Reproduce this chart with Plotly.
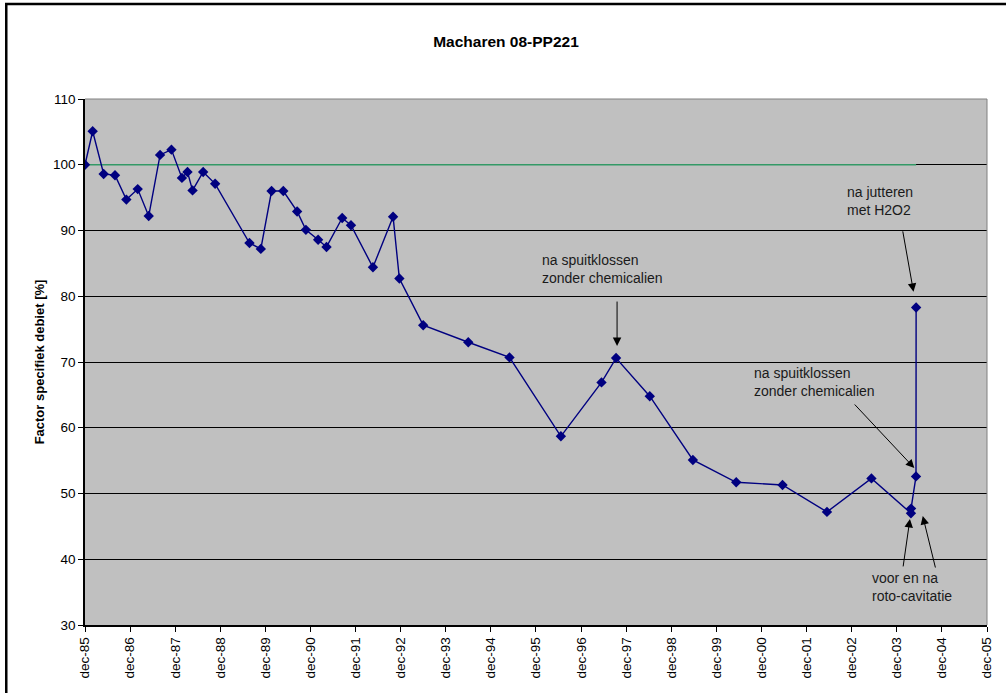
import plotly.graph_objects as go

# Measurement dates and specific-flow factor [%] for well 08-PP221
dates = [
    "1985-12-01", "1986-02-01", "1986-05-01", "1986-08-01", "1986-11-01",
    "1987-02-01", "1987-05-01", "1987-08-01", "1987-11-01", "1988-01-25",
    "1988-03-10", "1988-04-20", "1988-07-15", "1988-10-20", "1989-07-25",
    "1989-10-25", "1990-01-20", "1990-04-25", "1990-08-15", "1990-10-25",
    "1991-02-01", "1991-04-10", "1991-08-15", "1991-10-25", "1992-04-20",
    "1992-09-30", "1992-11-20", "1993-06-01", "1994-06-01", "1995-05-01",
    "1996-06-20", "1997-05-15", "1997-09-10", "1998-06-10", "1999-05-25",
    "2000-05-10", "2001-05-20", "2002-05-15", "2003-05-10", "2004-03-25",
    "2004-03-26", "2004-05-05", "2004-05-06",
]
factor = [
    100.0, 105.1, 98.6, 98.4, 94.7,
    96.3, 92.2, 101.5, 102.3, 98.0,
    98.9, 96.1, 98.9, 97.1, 88.1,
    87.2, 96.0, 96.0, 92.9, 90.1,
    88.6, 87.5, 91.9, 90.8, 84.4,
    92.1, 82.7, 75.6, 73.0, 70.7,
    58.7, 66.9, 70.6, 64.8, 55.1,
    51.7, 51.3, 47.2, 52.3, 47.0,
    47.7, 52.6, 78.3,
]

# Reference level (start value) across the measurement period
ref_dates = [dates[0], dates[-1]]
ref_level = [100, 100]

tick_dates = [f"{y}-12-01" for y in range(1985, 2006)]
tick_text = [f"dec-{str(y)[2:]}" for y in range(1985, 2006)]
y_ticks = [30, 40, 50, 60, 70, 80, 90, 100, 110]

FONT = "Liberation Sans, Arial, sans-serif"

fig = go.Figure()
fig.add_trace(go.Scatter(
    x=ref_dates, y=ref_level, mode="lines",
    line=dict(color="#339966", width=1.5), hoverinfo="skip",
))
fig.add_trace(go.Scatter(
    x=dates, y=factor, mode="lines+markers",
    line=dict(color="#000080", width=1.4),
    marker=dict(symbol="diamond", size=8, color="#000080"),
))

# Arrow annotations anchored on the measurement points they refer to
def arrow(i, xs, ys, ax, ay):
    return dict(
        x=dates[i], y=factor[i], xref="x", yref="y",
        xshift=xs, yshift=ys, ax=ax, ay=ay, text="",
        showarrow=True, arrowhead=2, arrowsize=1.7, arrowwidth=1,
        arrowcolor="#000000", standoff=0,
    )

notes = [
    arrow(32, 1, 12, 0, -46),
    arrow(42, -2.6, 15.6, -11, -62),
    arrow(41, -1.7, 8.4, -61, -65),
    arrow(39, -1, -5.7, -7, 49),
    arrow(40, 11.7, -7.4, 13, 53),
]

def label(text, px, py):
    return dict(
        text=text, xref="paper", yref="paper",
        x=(px - 85) / 905, y=(625 - py) / 526,
        xanchor="left", yanchor="top", align="left", showarrow=False,
        font=dict(family=FONT, size=14, color="#1a1a1a"),
    )

notes += [
    label("na spuitklossen<br>zonder chemicalien", 542, 250),
    label("na jutteren<br>met H2O2", 848, 182),
    label("na spuitklossen<br>zonder chemicalien", 754, 363),
    label("voor en na<br>roto-cavitatie", 873, 568),
]

fig.update_layout(
    width=1006, height=693,
    margin=dict(l=85, r=16, t=99, b=68),
    paper_bgcolor="white", plot_bgcolor="#C0C0C0",
    showlegend=False,
    title=dict(
        text="<b>Macharen 08-PP221</b>", x=0.503, xref="container",
        xanchor="center", y=1 - 42 / 693, yanchor="middle",
        font=dict(family=FONT, size=15.5, color="#000000"),
    ),
    font=dict(family=FONT, size=13.5, color="#000000"),
    annotations=notes,
    shapes=[
        # chart frame
        dict(type="rect", xref="paper", yref="paper",
             x0=(6 - 85) / 905, x1=1.1, y0=-0.3, y1=(625 - 4) / 526,
             line=dict(color="#000000", width=2.5), layer="below"),
        # top and right edge of the plot area
        dict(type="line", xref="paper", yref="paper", x0=0, x1=1, y0=1, y1=1,
             line=dict(color="#808080", width=1)),
        dict(type="line", xref="paper", yref="paper", x0=1, x1=1, y0=0, y1=1,
             line=dict(color="#808080", width=1)),
    ],
)

fig.update_xaxes(
    type="date", range=[tick_dates[0], tick_dates[-1]],
    tickmode="array", tickvals=tick_dates, ticktext=tick_text,
    tickangle=-90, tickfont=dict(size=13.5),
    ticks="outside", ticklen=5, tickcolor="#000000",
    showgrid=False, zeroline=False,
    showline=True, linecolor="#000000", linewidth=1.5,
)
fig.update_yaxes(
    range=[30, 110], tickmode="array", tickvals=y_ticks,
    tickfont=dict(size=13.5),
    ticks="outside", ticklen=5, tickcolor="#000000",
    showgrid=True, gridcolor="#000000", gridwidth=1,
    zeroline=False, showline=True, linecolor="#000000", linewidth=1.5,
    title=dict(text="<b>Factor specifiek debiet [%]</b>", font=dict(size=13), standoff=5),
)

fig.write_html("out.html")
